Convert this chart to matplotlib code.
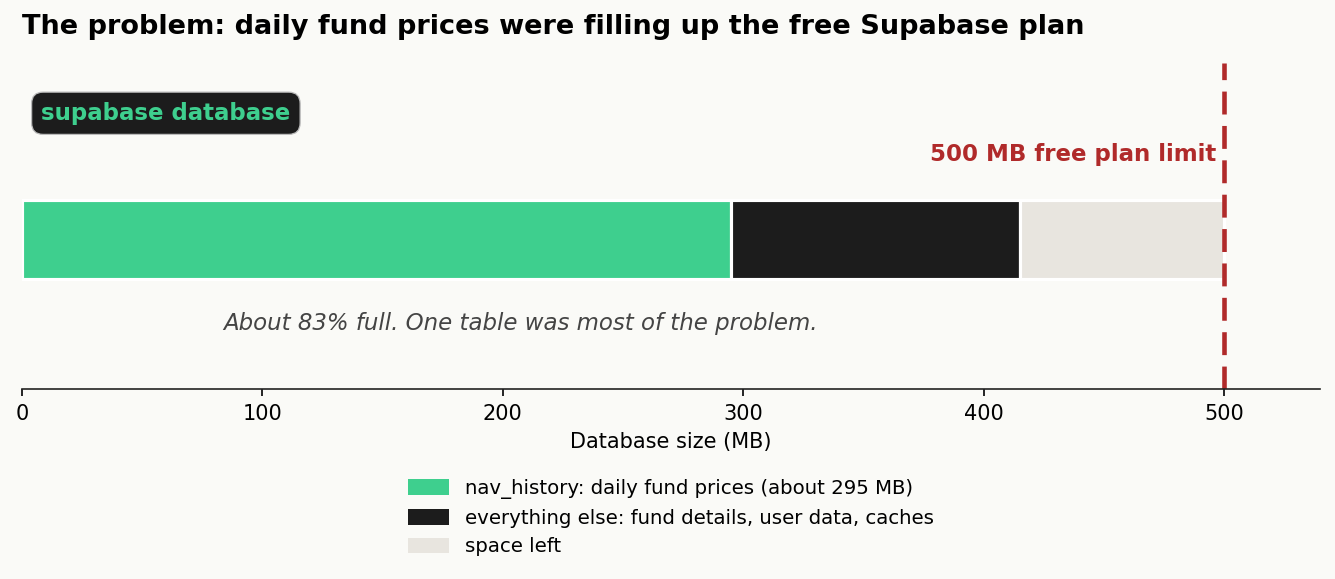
import matplotlib.pyplot as plt

plt.rcParams.update({
    "font.family": "DejaVu Sans",
    "font.size": 10,
})

# data
segment_labels = [
    "nav_history: daily fund prices (about 295 MB)",
    "everything else: fund details, user data, caches",
    "space left",
]
segment_sizes = [295, 120, 85]
segment_colors = ["#3ecf8e", "#1c1c1c", "#e8e5df"]
plan_limit = 500
bar_label = "supabase database"

BG = "#fafaf7"
RED = "#b02a2a"


def main():
    fig = plt.figure(figsize=(8.9, 3.86), dpi=150, facecolor=BG)
    ax = fig.add_axes([0.0165, 0.328, 0.9723, 0.563])
    ax.set_facecolor(BG)

    left = 0
    for size, color, label in zip(segment_sizes, segment_colors, segment_labels):
        ax.barh(0.015, size, left=left, height=0.437, color=color,
                edgecolor="white", linewidth=1.5, label=label)
        left += size

    ax.axvline(plan_limit, color=RED, linestyle=(0, (5, 2.5)), linewidth=2.2)
    ax.text(plan_limit - 3, 0.49, f"{plan_limit} MB free plan limit",
            ha="right", va="center", fontsize=11, fontweight="bold", color=RED)

    ax.text(8, 0.72, bar_label, ha="left", va="center", fontsize=11,
            fontweight="bold", color=segment_colors[0],
            bbox=dict(boxstyle="round,pad=0.42,rounding_size=0.5",
                      facecolor="#1c1c1c", edgecolor="#bbbbbb", linewidth=0.6))

    used = sum(segment_sizes[:2])
    ax.text(used / 2, -0.455,
            f"About {round(used / plan_limit * 100)}% full. One table was most of the problem.",
            ha="center", va="center", fontsize=11, style="italic", color="#444444")

    ax.set_xlim(0, 540)
    ax.set_ylim(-0.82, 1.0)
    ax.set_xticks(range(0, 501, 100))
    ax.set_yticks([])
    ax.set_xlabel("Database size (MB)", fontsize=10)
    for side in ["top", "right", "left"]:
        ax.spines[side].set_visible(False)
    ax.spines["bottom"].set_color("#222222")

    fig.text(0.0165, 0.953, "The problem: daily fund prices were filling up the free Supabase plan",
             ha="left", va="center", fontsize=13, fontweight="bold")

    leg = ax.legend(loc="upper center", bbox_to_anchor=(0.5, -0.22), frameon=False,
                    fontsize=9.5, handlelength=2.1, handleheight=0.85,
                    labelspacing=0.5, handletextpad=0.8)
    for h in leg.legend_handles:
        h.set_edgecolor("none")

    fig.savefig("out.png", dpi=150, facecolor=BG)


if __name__ == "__main__":
    main()
